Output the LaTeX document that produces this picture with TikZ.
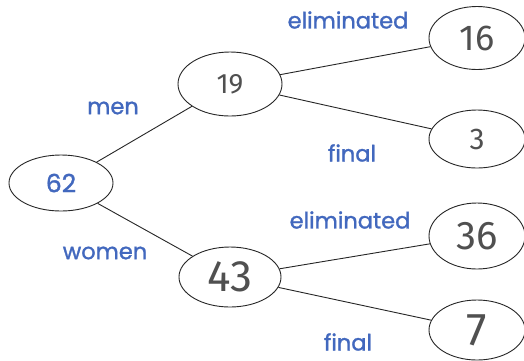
\documentclass[tikz,border=0pt]{standalone}
\usepackage{fontspec}
\setmainfont{Fira Sans}
\newfontfamily\lblfont[FakeBold=1.2]{Poppins}
\usetikzlibrary{shapes.geometric}
\definecolor{lblue}{RGB}{66,104,190}
\definecolor{pencil}{RGB}{80,80,80}
\begin{document}
\begin{tikzpicture}[x=1pt,y=-1pt,
  oval/.style={ellipse,draw=black!85,line width=0.9pt,inner sep=0pt},
  lbl/.style={text=lblue,font=\lblfont\fontsize{22.5}{24}\selectfont,inner sep=0pt},
  hand/.style={text=pencil,font=\fontsize{#1}{#1}\selectfont},
  conn/.style={draw=black!85,line width=0.9pt}]
\useasboundingbox (0,0) rectangle (524,360);
\fill[white] (0,0) rectangle (524,360);
\node[oval,minimum width=104pt,minimum height=56pt,text=lblue,font=\lblfont\fontsize{25}{26}\selectfont] (n62) at (61,183) {62};
\node[oval,minimum width=104pt,minimum height=64pt,hand=28] (n19) at (230,84) {19};
\node[oval,minimum width=102pt,minimum height=60pt,hand=44] (n43) at (230,277) {43};
\node[oval,minimum width=96pt,minimum height=63pt,hand=36] (n16) at (477,38) {16};
\node[oval,minimum width=96pt,minimum height=58pt,hand=30] (n3) at (477,139) {3};
\node[oval,minimum width=96pt,minimum height=66pt,hand=40] (n36) at (477,236) {36};
\node[oval,minimum width=96pt,minimum height=60pt,hand=46] (n7) at (477,330) {7};
\draw[conn] (n62) -- (n19);
\draw[conn] (n62) -- (n43);
\draw[conn] (n19) -- (n16);
\draw[conn] (n19) -- (n3);
\draw[conn] (n43) -- (n36);
\draw[conn] (n43) -- (n7);
\node[lbl] (lmen) at (113,108) {men};
\node[lbl] (lwomen) at (105,253) {women};
\node[lbl] (le1) at (348,20) {eliminated};
\node[lbl] (lf1) at (352,153) {final};
\node[lbl] (le2) at (350,220) {eliminated};
\node[lbl] (lf2) at (348,342) {final};
\end{tikzpicture}
\end{document}
